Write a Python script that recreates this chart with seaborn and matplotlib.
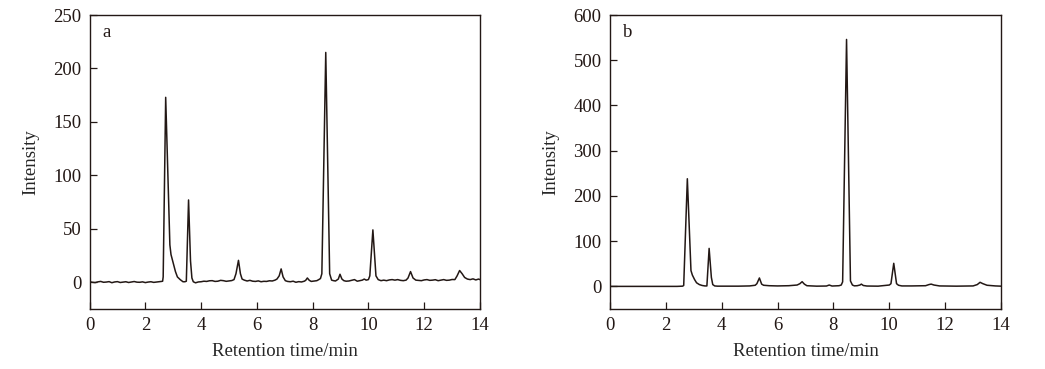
import matplotlib
matplotlib.use("Agg")
import matplotlib.pyplot as plt
import seaborn as sns
import pandas as pd

# Chromatogram a (retention time in min, intensity)
time_a = [0.0, 0.1, 0.2, 0.3, 0.4, 0.5, 0.6, 0.7, 0.8, 0.9, 1.0, 1.1, 1.2, 1.3,
          1.4, 1.5, 1.6, 1.7, 1.8, 1.9, 2.0, 2.1, 2.2, 2.3, 2.4, 2.5, 2.58,
          2.62, 2.64, 2.73, 2.88, 2.92, 3.00, 3.08, 3.15, 3.25, 3.35, 3.42,
          3.47, 3.55, 3.62, 3.67, 3.72, 3.80, 3.9, 4.0, 4.1, 4.2, 4.3, 4.4, 4.5,
          4.6, 4.7, 4.8, 4.9, 5.0, 5.1, 5.18, 5.25, 5.34, 5.41, 5.47, 5.55, 5.65,
          5.75, 5.85, 5.95, 6.05, 6.15, 6.25, 6.35, 6.45, 6.55, 6.65, 6.72, 6.80,
          6.87, 6.94, 7.02, 7.1, 7.2, 7.3, 7.4, 7.5, 7.6, 7.7, 7.75, 7.81, 7.88,
          7.95, 8.05, 8.15, 8.22, 8.28, 8.33, 8.47, 8.61, 8.68, 8.75, 8.82, 8.92,
          8.98, 9.05, 9.12, 9.2, 9.3, 9.4, 9.5, 9.6, 9.7, 9.78, 9.85, 9.92, 10.0,
          10.05, 10.16, 10.27, 10.35, 10.45, 10.55, 10.65, 10.75, 10.85, 10.95,
          11.05, 11.15, 11.25, 11.35, 11.42, 11.51, 11.60, 11.7, 11.8, 11.9, 12.0,
          12.1, 12.2, 12.3, 12.4, 12.5, 12.6, 12.7, 12.8, 12.9, 13.0, 13.1, 13.18,
          13.27, 13.36, 13.45, 13.55, 13.65, 13.75, 13.85, 13.95, 14.0]
intensity_a = [0.5, 0.0, -0.3, 0.4, 0.8, 0.0, 0.2, 0.6, -0.4, 0.3, 0.6, -0.2, 0.1, 0.5,
               -0.2, 0.3, 0.7, 0.1, 0.0, 0.4, -0.3, 0.2, 0.5, -0.1, 0.2, 0.6, 0.8,
               1, 5, 173, 35, 26, 18, 10, 5, 2.5, 0.5, 0.5,
               1, 77, 20, 4, 0.5, -0.5, 0.3, 0.5, 1.0, 0.8, 1.4, 1.5, 0.8,
               1, 1.8, 1.5, 0.9, 1.2, 1.6, 2.5, 8, 20.5, 8, 3, 2, 1.2,
               1.8, 1.0, 0.8, 1.3, 0.5, 0.9, 0.8, 1.4, 1.2, 2.0, 3, 6,
               12.5, 5, 1.5, 0.8, 0.5, 1.0, 0.0, 0.6, 0.3, 1.0, 1.8, 4, 1.8,
               0.8, 1.2, 1.5, 2.5, 3.5, 8, 215, 8, 2, 1.5, 1.2, 3,
               7.5, 3, 1.5, 1.0, 1.2, 1.8, 2.5, 1.0, 1.5, 2.0, 3, 2, 2.5,
               6, 49, 6, 2.5, 1.5, 2.0, 1.5, 2.2, 2.5, 2.0,
               2.5, 1.8, 1.5, 2.0, 4, 10, 4, 2, 1.8, 1.5, 2.2,
               2.5, 1.8, 2, 2.4, 1.5, 2.0, 2.5, 1.8, 2, 2.6, 2.5, 6,
               11, 8, 4.5, 3, 2.5, 3.2, 2.2, 3, 2.5]

# Chromatogram b
time_b = [0.0, 1.0, 2.0, 2.4, 2.6, 2.64, 2.77, 2.90, 2.95, 3.03, 3.10, 3.20,
          3.30, 3.40, 3.47, 3.55, 3.63, 3.68, 3.75, 3.85, 4.2, 4.6, 5.0, 5.2,
          5.26, 5.35, 5.43, 5.5, 5.7, 6.0, 6.4, 6.7, 6.8, 6.88, 6.96, 7.05, 7.4,
          7.75, 7.85, 7.95, 8.2, 8.28, 8.33, 8.47, 8.61, 8.68, 8.75, 8.85, 8.95,
          9.0, 9.07, 9.2, 9.6, 10.0, 10.06, 10.16, 10.26, 10.33, 10.45, 10.8,
          11.3, 11.42, 11.5, 11.6, 11.8, 12.4, 13.0, 13.15, 13.25, 13.35, 13.5,
          13.8, 14.0]
intensity_b = [0, 0, 0, 0, 0.5, 2, 238, 35, 25, 15, 8, 4,
               2, 1, 1, 84, 20, 4, 1, 0.5, 0.5, 0.5, 1, 2.5,
               6, 18.6, 5, 2.5, 1.5, 1, 1.5, 3, 6, 10.4, 5, 1.5, 0.5,
               0.8, 3, 0.8, 1.5, 3, 10, 546, 12, 3, 1.2, 1.5, 3,
               5, 2, 0.8, 0.5, 3, 6, 51, 6, 2.5, 1, 1,
               1.5, 4, 5, 3, 1, 0.5, 1, 4, 9, 6, 2.5,
               1, 0.5]

panels = [
    ("a", time_a, intensity_a, (-25, 250), [0, 50, 100, 150, 200, 250]),
    ("b", time_b, intensity_b, (-50, 600), [0, 100, 200, 300, 400, 500, 600]),
]

sns.set_theme(style="ticks")
plt.rcParams["font.family"] = ["Liberation Serif", "DejaVu Serif"]
plt.rcParams["font.size"] = 13

fig = plt.figure(figsize=(10.45, 3.69), dpi=100)
ax_a = fig.add_axes([0.0857, 0.1626, 0.3736, 0.7967])
ax_b = fig.add_axes([0.5837, 0.1626, 0.3742, 0.7967])

line_color = "#231815"

for ax, (tag, t, y, ylim, yticks) in zip([ax_a, ax_b], panels):
    df = pd.DataFrame({"time": t, "intensity": y})
    sns.lineplot(data=df, x="time", y="intensity", ax=ax, estimator=None,
                 sort=False, color=line_color, linewidth=1.1)
    ax.set_xlim(0, 14)
    ax.set_ylim(*ylim)
    ax.set_xticks(range(0, 15, 2))
    ax.set_yticks(yticks)
    ax.set_xlabel("Retention time/min", fontsize=13.5, labelpad=6)
    ax.set_ylabel("Intensity", fontsize=13.5, labelpad=10)
    ax.tick_params(direction="in", length=5, width=0.9, labelsize=13.5,
                   colors=line_color, top=False, right=False, pad=6)
    for sp in ax.spines.values():
        sp.set_visible(True)
        sp.set_linewidth(1.0)
        sp.set_color(line_color)
    ax.text(0.034, 0.94, tag, transform=ax.transAxes, fontsize=13.5,
            ha="left", va="center", color=line_color)

fig.savefig("out.png", dpi=100)
